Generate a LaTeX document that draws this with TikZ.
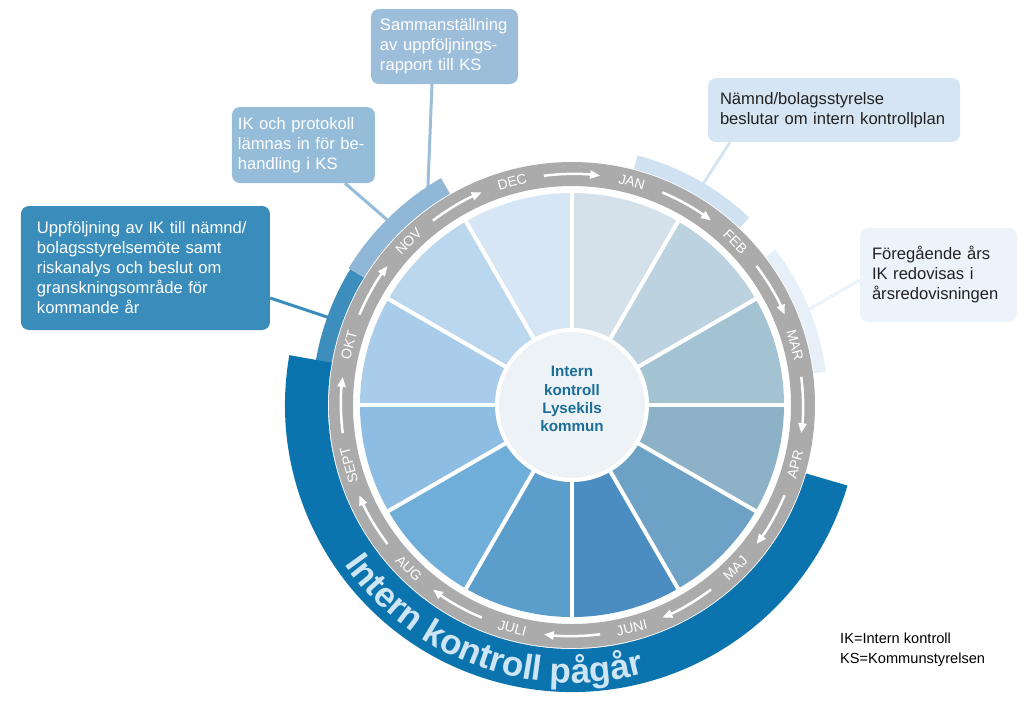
\documentclass[tikz,border=0pt]{standalone}
\usepackage{fontspec}
\setmainfont{Liberation Sans}
\usetikzlibrary{arrows.meta,decorations.text}

\definecolor{ringgray}{HTML}{ABABAB}
\definecolor{bandblue}{HTML}{0B74AE}
\definecolor{bandtext}{HTML}{CDE5F5}
\definecolor{oktblue}{HTML}{3D8EBD}
\definecolor{novblue}{HTML}{90B7D6}
\definecolor{janblue}{HTML}{D0E1F1}
\definecolor{febblue}{HTML}{E7F0F9}
\definecolor{hubfill}{HTML}{EDF2F6}
\definecolor{hubtext}{HTML}{1B6F97}
\definecolor{samfill}{HTML}{9DBEDA}
\definecolor{ikpfill}{HTML}{95BCD9}
\definecolor{uppfill}{HTML}{3A8DBA}
\definecolor{besfill}{HTML}{D6E5F3}
\definecolor{forfill}{HTML}{ECF3FA}
\definecolor{darktext}{HTML}{222222}
\definecolor{wJan}{HTML}{D4E1EB}
\definecolor{wFeb}{HTML}{BDD2E0}
\definecolor{wMar}{HTML}{A3C3D3}
\definecolor{wApr}{HTML}{8DB2C8}
\definecolor{wMaj}{HTML}{6DA2C6}
\definecolor{wJun}{HTML}{4B8DC1}
\definecolor{wJul}{HTML}{5B9ECB}
\definecolor{wAug}{HTML}{70AEDA}
\definecolor{wSep}{HTML}{8DBDE2}
\definecolor{wOkt}{HTML}{A8CCEA}
\definecolor{wNov}{HTML}{BBD7EE}
\definecolor{wDec}{HTML}{D7E6F4}

\tikzset{
    infobox/.style={rounded corners=8pt, align=left, inner ysep=0pt,
        font=\fontsize{16.6}{20}\selectfont},
    link/.style={line width=3pt},
    month/.style={text=white, inner sep=0pt,
        font=\fontsize{14}{14}\selectfont},
    turn/.style={white, line width=2.5pt, -{Triangle[length=10pt,width=8pt]}},
    legend/.style={inner sep=0pt, font=\fontsize{14.6}{17}\selectfont},
}

\begin{document}
\begin{tikzpicture}[x=1pt,y=1pt]
                \useasboundingbox
                    (-572,-319) rectangle (452,405);
                \node[infobox, fill=samfill, text=white, inner xsep=9pt, text width=129pt, minimum height=75pt]
                    (sam) at (-127.5,358.5) {Sammanställning\\av uppföljnings-\\rapport till KS};
                \node[infobox, fill=ikpfill, text=white, inner xsep=6pt, text width=131pt, minimum height=76pt]
                    (ikp) at (-268.5,260) {IK och protokoll\\lämnas in för be-\\handling i KS};
                \node[infobox, fill=uppfill, text=white, inner xsep=16pt, text width=217pt, minimum height=124pt]
                    (upp) at (-426.5,137) {Uppföljning av IK till nämnd/\\bolagsstyrelsemöte samt\\riskanalys och beslut om\\granskningsområde för\\kommande år};
                \node[infobox, fill=besfill, text=darktext, inner xsep=12pt, text width=228pt, minimum height=64pt]
                    (bes) at (262,295) {Nämnd/bolagsstyrelse\\beslutar om intern kontrollplan};
                \node[infobox, fill=forfill, text=darktext, inner xsep=12pt, text width=133pt, minimum height=94pt]
                    (for) at (366.5,130) {Föregående års\\IK redovisas i\\årsredovisningen};
                \coordinate (pSam) at (125:252);
                \coordinate (pIkp) at (134.8:252);
                \coordinate (pUpp) at (160.2:252);
                \coordinate (pBes) at (59.4:250);
                \coordinate (pFor) at (21.8:250);
                \draw[link, samfill]
                    ([xshift=-12.5pt]sam.south) -- (pSam);
                \draw[link, ikpfill]
                    ([xshift=41.5pt]ikp.south) -- (pIkp);
                \draw[link, uppfill]
                    ([yshift=-30pt]upp.east) -- (pUpp);
                \draw[link, besfill]
                    ([xshift=-104pt]bes.south) -- (pBes);
                \draw[link, forfill]
                    ([yshift=-5pt]for.west) -- (pFor);
                \fill[oktblue]
                    (148.5:244) arc (148.5:172:244) -- (172:260) arc (172:148.5:260) -- cycle;
                \fill[novblue]
                    (120:244) arc (120:148.5:244) -- (148.5:262) arc (148.5:120:262) -- cycle;
                \fill[janblue]
                    (46.6:244) arc (46.6:75.3:244) -- (75.3:258) arc (75.3:46.6:258) -- cycle;
                \fill[febblue]
                    (7.5:244) arc (7.5:37.4:244) -- (37.4:256) arc (37.4:7.5:256) -- cycle;
                \fill[bandblue]
                    (170:244) arc (170:343.7:244) -- (343.7:287) arc (343.7:170:287) -- cycle;
                \path[decorate, decoration={text along path, text align=center,
                    text={|\color{bandtext}\fontsize{35}{35}\selectfont\bfseries|Intern kontroll pågår}}]
                    (-152:278) arc (-152:-68:278);
                \draw[ringgray, line width=24pt]
                    (0,0) circle (231);
                \foreach \a/\c in {60/wJan,30/wFeb,0/wMar,-30/wApr,-60/wMaj,-90/wJun,
                                   -120/wJul,-150/wAug,-180/wSep,150/wOkt,120/wNov,90/wDec}
                    \fill[\c] (0,0) -- (\a:212) arc (\a:\a+30:212) -- cycle;
                \foreach \a in {0,30,...,330}
                    \draw[white, line width=4pt] (0,0) -- (\a:214);
                \node[circle, fill=hubfill, draw=white, line width=4pt, minimum size=150pt]
                    (hub) at (0,0) {};
                \node[align=center, text=hubtext, font=\fontsize{15.2}{18.3}\selectfont\bfseries]
                    (hubtitle) at (0,6) {Intern\\kontroll\\Lysekils\\kommun};
                \foreach \a in {90,60,...,-240}
                    \draw[turn] (\a+7:231) arc (\a+7:\a-7:231);
                \foreach \m/\a/\r in {JAN/75/-15,FEB/45/-45,MAR/15/-75,APR/-15/75,MAJ/-45/45,
                                      JUNI/-75/15,JULI/-105/-15,AUG/-135/-45,SEPT/-165/105,
                                      OKT/165/75,NOV/135/45,DEC/105/15}
                    \node[month, rotate=\r] (m\m) at (\a:231) {\m};
                \node[legend, anchor=base west]
                    (ik) at (268,-238) {IK=Intern kontroll};
                \node[legend, anchor=base west]
                    (ks) at (268,-258) {KS=Kommunstyrelsen};
            \end{tikzpicture}
\end{document}
